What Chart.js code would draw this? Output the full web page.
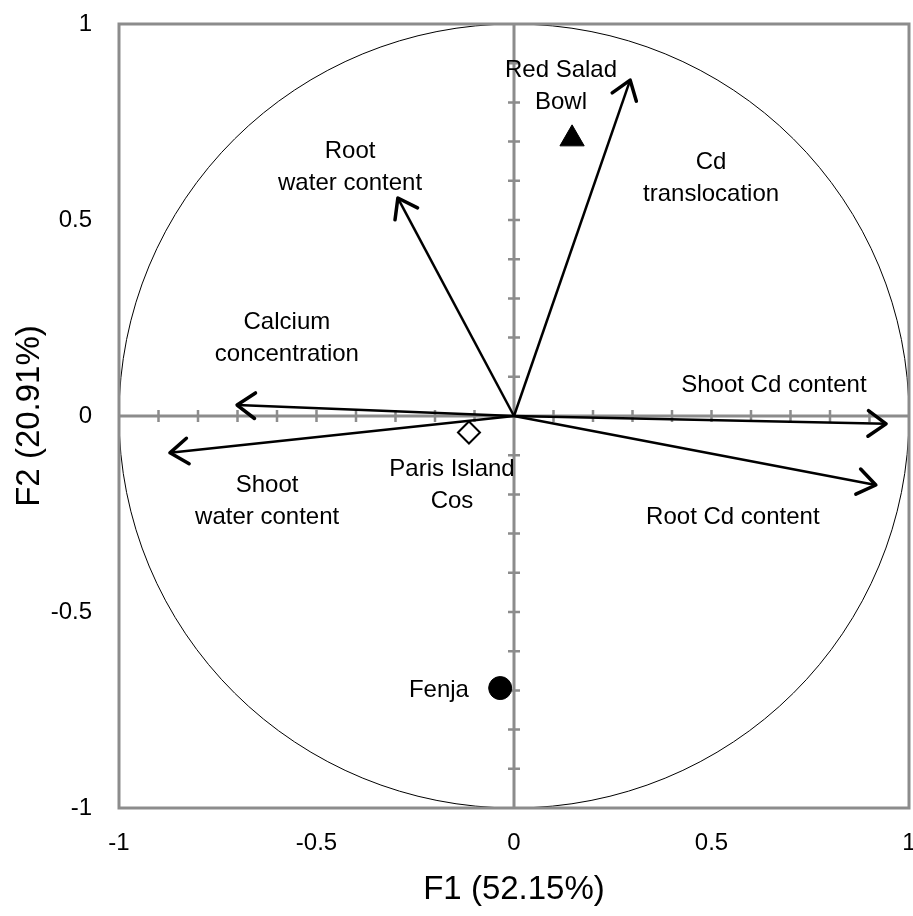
<!DOCTYPE html>
<html>
<head>
<meta charset="utf-8">
<script src="https://cdn.jsdelivr.net/npm/chart.js@4"></script>
<style>
  html, body { margin: 0; padding: 0; background: #fff; }
  #wrap { width: 913px; height: 916px; }
</style>
</head>
<body>
<div id="wrap"><canvas id="pcaChart" width="913" height="916"></canvas></div>
<script>
// variables (loadings on F1/F2)
const varNames = ['Shoot Cd content', 'Root Cd content', 'Cd translocation',
                  'Root water content', 'Calcium concentration', 'Shoot water content'];
const varF1 = [0.942, 0.916, 0.294, -0.294, -0.701, -0.871];
const varF2 = [-0.020, -0.176, 0.857, 0.556, 0.028, -0.094];

// cultivars (observations)
const obsNames = ['Red Salad Bowl', 'Paris Island Cos', 'Fenja'];
const obsF1 = [0.147, -0.114, -0.035];
const obsF2 = [0.707, -0.042, -0.694];

const tickValues = [-1, -0.5, 0, 0.5, 1];
const tickLabels = ['-1', '-0.5', '0', '0.5', '1'];

// where the text labels go (data units), lines split on \n
const varLabelSpots = [
    {text: 'Shoot Cd content', x: 0.658, y: 0.079},
    {text: 'Root Cd content', x: 0.554, y: -0.258},
    {text: 'Cd\ntranslocation', x: 0.499, y: 0.605},
    {text: 'Root\nwater content', x: -0.415, y: 0.633},
    {text: 'Calcium\nconcentration', x: -0.575, y: 0.199},
    {text: 'Shoot\nwater content', x: -0.625, y: -0.217}
];
const obsLabelSpots = [
    {text: 'Red Salad\nBowl', x: 0.119, y: 0.842},
    {text: 'Paris Island\nCos', x: -0.157, y: -0.176},
    {text: 'Fenja', x: -0.190, y: -0.699}
];

const FONT = 'Liberation Sans, Arial, Helvetica, sans-serif';
const GREY = '#8c8c8c';

const arrowSets = varNames.map((name, i) => ({
    label: name,
    type: 'scatter',
    data: [{x: 0, y: 0}, {x: varF1[i], y: varF2[i]}],
    showLine: true,
    borderColor: '#000',
    borderWidth: 2.5,
    pointRadius: 0,
    isArrow: true
}));

const obsStyles = [
    {pointStyle: 'triangle', pointRadius: 14, backgroundColor: '#000', borderColor: '#000', borderWidth: 1},
    {pointStyle: 'rectRot', pointRadius: 11, backgroundColor: '#fff', borderColor: '#000', borderWidth: 2},
    {pointStyle: 'circle', pointRadius: 11.5, backgroundColor: '#000', borderColor: '#000', borderWidth: 1}
];
const obsSets = obsNames.map((name, i) => Object.assign({
    label: name,
    type: 'scatter',
    data: [{x: obsF1[i], y: obsF2[i]}]
}, obsStyles[i]));

function drawLines(ctx, txt, px, py, lineH) {
    const lines = txt.split('\n');
    const start = py - (lines.length - 1) * lineH / 2;
    lines.forEach((l, k) => ctx.fillText(l, px, start + k * lineH));
}

function noPad(s) {
    s.paddingLeft = 0; s.paddingRight = 0;
    s.paddingTop = 0; s.paddingBottom = 0;
}

const pcaPlugin = {
    id: 'pcaPlugin',
    beforeDatasetsDraw(chart) {
        const {ctx, chartArea: a, scales: {x, y}} = chart;
        ctx.save();
        // correlation circle
        const cx = x.getPixelForValue(0), cy = y.getPixelForValue(0);
        const rx = x.getPixelForValue(1) - cx, ry = cy - y.getPixelForValue(1);
        ctx.strokeStyle = '#000';
        ctx.lineWidth = 1;
        ctx.beginPath();
        ctx.ellipse(cx, cy, rx, ry, 0, 0, Math.PI * 2);
        ctx.stroke();
        // zero axes
        ctx.strokeStyle = GREY;
        ctx.lineWidth = 3;
        ctx.beginPath();
        ctx.moveTo(a.left, cy); ctx.lineTo(a.right, cy);
        ctx.moveTo(cx, a.top); ctx.lineTo(cx, a.bottom);
        ctx.stroke();
        // minor ticks every 0.1
        ctx.lineWidth = 2.5;
        ctx.beginPath();
        for (let k = -9; k <= 9; k++) {
            if (k === 0) continue;
            const px = x.getPixelForValue(k / 10);
            const py = y.getPixelForValue(k / 10);
            ctx.moveTo(px, cy - 6); ctx.lineTo(px, cy + 6);
            ctx.moveTo(cx - 6, py); ctx.lineTo(cx + 6, py);
        }
        ctx.stroke();
        // frame
        ctx.lineWidth = 3;
        ctx.strokeRect(a.left, a.top, a.right - a.left, a.bottom - a.top);
        ctx.restore();
    },
    afterDatasetsDraw(chart) {
        const {ctx, scales: {x, y}} = chart;
        ctx.save();
        // arrow heads
        ctx.strokeStyle = '#000';
        ctx.lineWidth = 3.5;
        ctx.lineCap = 'round';
        ctx.lineJoin = 'round';
        chart.data.datasets.forEach((ds, i) => {
            if (!ds.isArrow) return;
            const pts = chart.getDatasetMeta(i).data;
            const p0 = pts[0], p1 = pts[1];
            const ang = Math.atan2(p1.y - p0.y, p1.x - p0.x);
            const len = 22, spread = 0.62;
            ctx.beginPath();
            ctx.moveTo(p1.x - len * Math.cos(ang - spread), p1.y - len * Math.sin(ang - spread));
            ctx.lineTo(p1.x, p1.y);
            ctx.lineTo(p1.x - len * Math.cos(ang + spread), p1.y - len * Math.sin(ang + spread));
            ctx.stroke();
        });
        // labels
        ctx.fillStyle = '#000';
        ctx.font = '24px ' + FONT;
        ctx.textAlign = 'center';
        ctx.textBaseline = 'middle';
        varLabelSpots.concat(obsLabelSpots).forEach(s => {
            drawLines(ctx, s.text, x.getPixelForValue(s.x), y.getPixelForValue(s.y), 32);
        });
        ctx.restore();
    }
};

new Chart(document.getElementById('pcaChart').getContext('2d'), {
    type: 'scatter',
    data: {datasets: arrowSets.concat(obsSets)},
    plugins: [pcaPlugin],
    options: {
        responsive: false,
        animation: false,
        layout: {autoPadding: false, padding: {left: 0, right: 4, top: 24, bottom: 0}},
        plugins: {legend: {display: false}, tooltip: {enabled: false}},
        scales: {
            x: {
                type: 'linear', min: -1, max: 1,
                afterBuildTicks: s => { s.ticks = tickValues.map(v => ({value: v})); },
                afterFit: s => { s.height = 108; noPad(s); },
                grid: {display: false, drawTicks: false},
                border: {display: false},
                ticks: {color: '#000', padding: 21, maxRotation: 0,
                        callback: v => tickLabels[tickValues.indexOf(v)],
                        font: {family: FONT, size: 24}},
                title: {display: true, text: 'F1 (52.15%)', color: '#000',
                        font: {family: FONT, size: 33}, padding: {top: 14, bottom: 6}}
            },
            y: {
                type: 'linear', min: -1, max: 1,
                afterBuildTicks: s => { s.ticks = tickValues.map(v => ({value: v})); },
                afterFit: s => { s.width = 119; noPad(s); },
                grid: {display: false, drawTicks: false},
                border: {display: false},
                ticks: {color: '#000', padding: 27,
                        callback: v => tickLabels[tickValues.indexOf(v)],
                        font: {family: FONT, size: 24}},
                title: {display: true, text: 'F2 (20.91%)', color: '#000',
                        font: {family: FONT, size: 33}, padding: {top: 10, bottom: 0}}
            }
        }
    }
});
</script>
</body>
</html>
